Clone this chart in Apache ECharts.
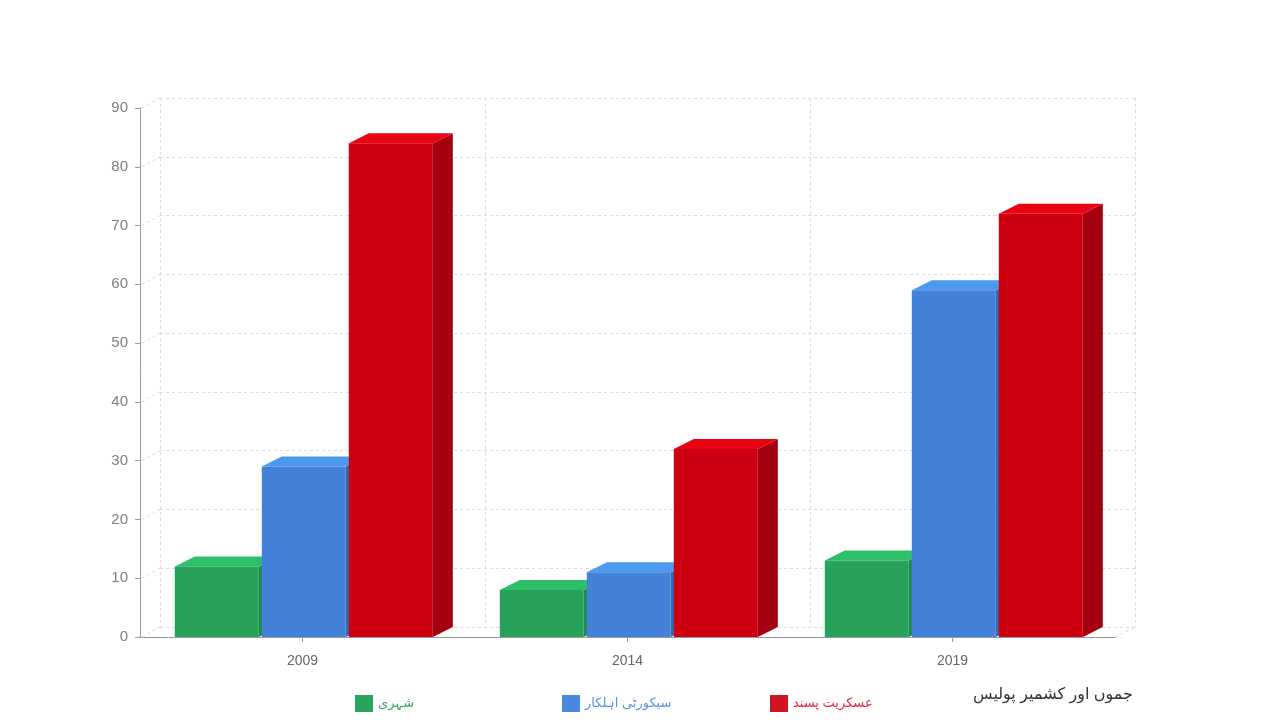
<!DOCTYPE html>
<html>
<head>
<meta charset="utf-8">
<script src="https://cdn.jsdelivr.net/npm/echarts@6/dist/echarts.min.js"></script>
<style>
html,body{margin:0;padding:0;background:#fff;}
#chart{width:1280px;height:720px;}
</style>
</head>
<body>
<div id="chart"></div>
<script>
// ---- data ----
const categories = ['2009', '2014', '2019'];
const seriesNames = ['شہری', 'سیکورٹی اہلکار', 'عسکریت پسند'];
const civilians = [12, 8, 13];
const securityPersonnel = [29, 11, 59];
const militants = [84, 32, 72];
const yTicks = [0, 10, 20, 30, 40, 50, 60, 70, 80, 90];
const sourceLabel = 'جموں اور کشمیر پولیس';

// ---- styles ----
const palettes = [
  {front: '#27A25B', top: '#2FBE69', side: '#1E8A4B', legend: '#2AA35E', text: '#35A866'},
  {front: '#4382D8', top: '#4B9AF0', side: '#3469B3', legend: '#4A88DD', text: '#5B93E3'},
  {front: '#CC0011', top: '#EA0413', side: '#A5000F', legend: '#D01626', text: '#E2283A'}
];
const DX = 20, DY = 10;
const FONT = '"Liberation Sans", "DejaVu Sans", Arial, sans-serif';
const valueSets = [civilians, securityPersonnel, militants];

function barRenderer(idx) {
  const p = palettes[idx];
  return function (params, api) {
    const top = api.coord([api.value(0), api.value(1)]);
    const base = api.coord([api.value(0), 0]);
    const bw = api.size([1, 0])[0];
    const w = bw * 0.2585;
    const step = bw * 0.2677;
    const cx = top[0] + (idx - 1) * step + bw * 0.004;
    const x0 = cx - w / 2, x1 = cx + w / 2;
    const y0 = top[1], yb = base[1];
    return {
      type: 'group',
      children: [
        {type: 'polygon', shape: {points: [[x1, y0], [x1 + DX, y0 - DY], [x1 + DX, yb - DY], [x1, yb]]},
         style: {fill: p.side}},
        {type: 'polygon', shape: {points: [[x0, y0], [x1, y0], [x1 + DX, y0 - DY], [x0 + DX, y0 - DY]]},
         style: {fill: p.top}},
        {type: 'rect', shape: {x: x0, y: y0, width: w, height: yb - y0},
         style: {fill: p.front}}
      ]
    };
  };
}

const barSeries = valueSets.map((vals, idx) => ({
  type: 'custom',
  name: seriesNames[idx],
  xAxisIndex: 0, yAxisIndex: 0,
  renderItem: barRenderer(idx),
  itemStyle: {color: palettes[idx].legend},
  encode: {x: 0, y: 1},
  data: vals.map((v, i) => [i, v]),
  z: 3 + idx,
  silent: true
}));

const wallLine = {stroke: '#d6d6d6', lineWidth: 1, lineDash: [3, 3]};

const wallSeries = {
  type: 'custom',
  name: 'wall',
  xAxisIndex: 0, yAxisIndex: 0,
  silent: true,
  z: 1,
  renderItem: function (params, api) {
    const y = api.coord([0, api.value(1)])[1];
    const x = params.coordSys.x;
    return {type: 'line', shape: {x1: x + 2, y1: y, x2: x + DX, y2: y - DY}, style: wallLine};
  },
  data: yTicks.map(v => [0, v])
};

const floorRight = {
  type: 'custom',
  name: 'floor',
  xAxisIndex: 0, yAxisIndex: 0,
  silent: true,
  z: 1,
  renderItem: function (params, api) {
    const y = api.coord([0, api.value(1)])[1];
    const x = params.coordSys.x + params.coordSys.width;
    return {type: 'line', shape: {x1: x, y1: y, x2: x + DX, y2: y - DY}, style: wallLine};
  },
  data: [[0, yTicks[0]]]
};

const legends = seriesNames.map((n, i) => ({
  data: [{name: n, itemStyle: {color: palettes[i].legend}}],
  left: [350, 557, 765][i],
  top: 690,
  icon: 'rect',
  itemWidth: 18,
  itemHeight: 17,
  selectedMode: false,
  textStyle: {color: palettes[i].text, fontSize: 13, fontFamily: FONT}
}));

const chart = echarts.init(document.getElementById('chart'), null, {renderer: 'canvas'});
chart.setOption({
  backgroundColor: '#ffffff',
  animation: false,
  title: {
    text: sourceLabel,
    right: 142,
    top: 682,
    textStyle: {fontSize: 16, fontWeight: 'normal', color: '#333333', fontFamily: FONT}
  },
  legend: legends,
  grid: [
    {left: 140, right: 165, top: 108, bottom: 83},
    {left: 160, right: 145, top: 98, bottom: 93}
  ],
  xAxis: [
    {
      type: 'category', gridIndex: 0, data: categories,
      axisLine: {show: true, lineStyle: {color: '#999999', width: 1}},
      axisTick: {show: true, alignWithLabel: true, length: 5, lineStyle: {color: '#999999'}},
      axisLabel: {color: '#666666', fontSize: 14, margin: 17, fontFamily: FONT},
      splitLine: {show: false}
    },
    {
      type: 'category', gridIndex: 1, data: categories,
      axisLine: {show: false}, axisTick: {show: false}, axisLabel: {show: false},
      splitLine: {show: true, lineStyle: {color: '#dcdcdc', type: [3, 3], width: 1}}
    }
  ],
  yAxis: [
    {
      type: 'value', gridIndex: 0, min: 0, max: 90, interval: 10,
      axisLine: {show: true, lineStyle: {color: '#999999', width: 1}},
      axisTick: {show: true, length: 5, lineStyle: {color: '#999999'}},
      axisLabel: {color: '#808080', fontSize: 15, margin: 12, fontFamily: FONT,
                  formatter: v => yTicks.indexOf(v) >= 0 ? String(v) : ''},
      splitLine: {show: false}
    },
    {
      type: 'value', gridIndex: 1, min: 0, max: 90, interval: 10,
      axisLine: {show: false}, axisTick: {show: false}, axisLabel: {show: false},
      splitLine: {show: true, lineStyle: {color: '#dcdcdc', type: [3, 3], width: 1}}
    }
  ],
  series: [wallSeries, floorRight].concat(barSeries)
});
</script>
</body>
</html>
